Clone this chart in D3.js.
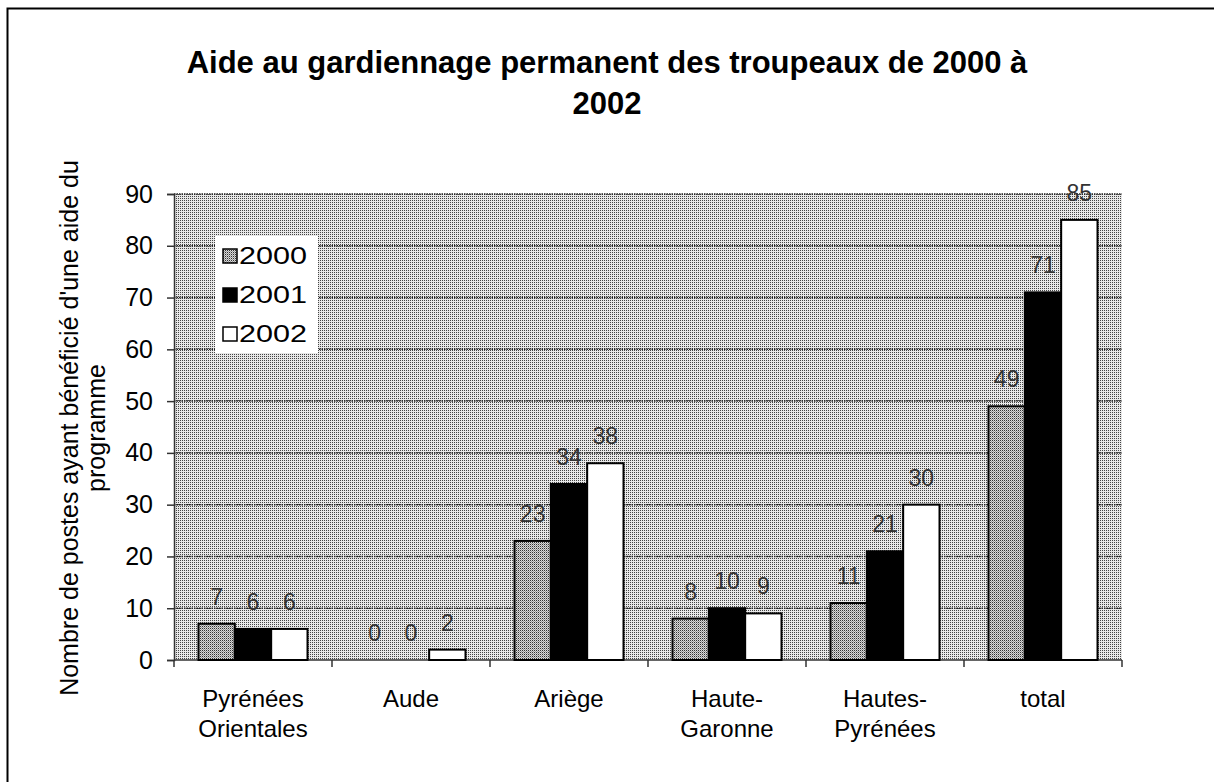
<!DOCTYPE html>
<html>
<head>
<meta charset="utf-8">
<script src="https://cdn.jsdelivr.net/npm/d3@7"></script>
<style>
  body { margin: 0; background: #fff; }
  svg { display: block; font-family: "Liberation Sans", Arial, sans-serif; }
</style>
</head>
<body>
<div id="chart"></div>
<script>
// data
var regions = ["Pyrénées Orientales", "Aude", "Ariège", "Haute-Garonne", "Hautes-Pyrénées", "total"];
var years = ["2000", "2001", "2002"];
var v2000 = [7, 0, 23, 8, 11, 49];
var v2001 = [6, 0, 34, 10, 21, 71];
var v2002 = [6, 2, 38, 9, 30, 85];
var yTicks = [0, 10, 20, 30, 40, 50, 60, 70, 80, 90];
var labelLines = [["Pyrénées", "Orientales"], ["Aude"], ["Ariège"], ["Haute-", "Garonne"], ["Hautes-", "Pyrénées"], ["total"]];

var W = 1214, H = 782;
var plot = {left: 174, right: 1122, top: 194, bottom: 660};

var svg = d3.select("#chart").append("svg")
  .attr("width", W).attr("height", H);

// halftone-ish fills
var defs = svg.append("defs");
var bgPat = defs.append("pattern").attr("id", "bgdots")
  .attr("width", 2).attr("height", 2).attr("patternUnits", "userSpaceOnUse");
bgPat.append("rect").attr("width", 2).attr("height", 2).attr("fill", "#e8e8e8");
bgPat.append("rect").attr("width", 1).attr("height", 1).attr("fill", "#444");

var barPat = defs.append("pattern").attr("id", "bardots")
  .attr("width", 2).attr("height", 2).attr("patternUnits", "userSpaceOnUse");
barPat.append("rect").attr("width", 2).attr("height", 2).attr("fill", "#d8d8d8");
barPat.append("rect").attr("width", 1).attr("height", 1).attr("fill", "#333");
barPat.append("rect").attr("x", 1).attr("y", 1).attr("width", 1).attr("height", 1).attr("fill", "#999");

var fills = {"2000": "url(#bardots)", "2001": "#000", "2002": "#fff"};

// outer frame (only top/left visible in the crop)
svg.append("rect")
  .attr("x", 7.5).attr("y", 8.5).attr("width", W + 20).attr("height", H + 20)
  .attr("fill", "none").attr("stroke", "#000").attr("stroke-width", 2);

// title
svg.append("text").attr("x", 607).attr("y", 73).attr("text-anchor", "middle")
  .attr("font-size", 31).attr("font-weight", "bold")
  .text("Aide au gardiennage permanent des troupeaux de 2000 à");
svg.append("text").attr("x", 607).attr("y", 114).attr("text-anchor", "middle")
  .attr("font-size", 31).attr("font-weight", "bold")
  .text("2002");

var x = d3.scaleBand().domain(regions).range([plot.left, plot.right]).paddingInner(0).paddingOuter(0);
var xs = d3.scaleBand().domain(years).range([0, 109]);
var y = d3.scaleLinear().domain([0, 90]).range([plot.bottom, plot.top]);

// plot area
svg.append("rect")
  .attr("x", plot.left).attr("y", plot.top)
  .attr("width", plot.right - plot.left).attr("height", plot.bottom - plot.top)
  .attr("fill", "url(#bgdots)");

// gridlines
svg.append("g").selectAll("line").data(yTicks.filter(function(d) { return d > 0; }))
  .enter().append("line")
  .attr("x1", plot.left).attr("x2", plot.right)
  .attr("y1", function(d) { return y(d); }).attr("y2", function(d) { return y(d); })
  .attr("stroke", "#222").attr("stroke-width", 1.5).attr("stroke-dasharray", "1.5,1");

// y axis
var yAxis = svg.append("g")
  .attr("transform", "translate(" + plot.left + ",0)")
  .call(d3.axisLeft(y).tickValues(yTicks).tickSize(7).tickPadding(14));
yAxis.select(".domain").attr("stroke", "#333").attr("stroke-width", 1.5);
yAxis.selectAll(".tick line").attr("stroke", "#333").attr("stroke-width", 1.5);
yAxis.selectAll(".tick text").attr("font-size", 25).attr("fill", "#000")
  .attr("font-family", "Liberation Sans, Arial, sans-serif");

// x axis line and boundary ticks
svg.append("line")
  .attr("x1", plot.left).attr("x2", plot.right)
  .attr("y1", plot.bottom).attr("y2", plot.bottom)
  .attr("stroke", "#333").attr("stroke-width", 1.5);
svg.append("g").selectAll("line").data(regions.concat(["end"]))
  .enter().append("line")
  .attr("x1", function(d, i) { return plot.left + i * x.bandwidth(); })
  .attr("x2", function(d, i) { return plot.left + i * x.bandwidth(); })
  .attr("y1", plot.bottom).attr("y2", plot.bottom + 7)
  .attr("stroke", "#333").attr("stroke-width", 1.5);

// category labels
var xl = svg.append("g").selectAll("text").data(regions)
  .enter().append("text")
  .attr("x", function(d) { return x(d) + x.bandwidth() / 2; })
  .attr("y", 707)
  .attr("text-anchor", "middle")
  .attr("font-size", 24);
xl.each(function(d, i) {
  var t = d3.select(this);
  labelLines[i].forEach(function(line, k) {
    t.append("tspan").attr("x", x(d) + x.bandwidth() / 2).attr("dy", k === 0 ? 0 : 30).text(line);
  });
});

// bars
var series = [v2000, v2001, v2002];
var rows = [];
regions.forEach(function(r, i) {
  years.forEach(function(yr, j) {
    rows.push({region: r, year: yr, value: series[j][i]});
  });
});

var groups = svg.append("g");
groups.selectAll("rect").data(rows.filter(function(d) { return d.value > 0; }))
  .enter().append("rect")
  .attr("x", function(d) { return x(d.region) + (x.bandwidth() - 109) / 2 + xs(d.year); })
  .attr("y", function(d) { return y(d.value); })
  .attr("width", xs.bandwidth())
  .attr("height", function(d) { return plot.bottom - y(d.value); })
  .attr("fill", function(d) { return fills[d.year]; })
  .attr("stroke", "#000").attr("stroke-width", 2);

// value labels
groups.selectAll("text").data(rows)
  .enter().append("text")
  .attr("x", function(d) { return x(d.region) + (x.bandwidth() - 109) / 2 + xs(d.year) + xs.bandwidth() / 2; })
  .attr("y", function(d) { return y(d.value) - 19; })
  .attr("text-anchor", "middle")
  .attr("font-size", 23)
  .attr("fill", "#333")
  .text(function(d) { return d.value; });

// y axis title
var yt = svg.append("text")
  .attr("transform", "translate(78,428) rotate(-90)")
  .attr("text-anchor", "middle")
  .attr("font-size", 25);
yt.append("tspan").attr("x", 0).attr("dy", 0).text("Nombre de postes ayant bénéficié d'une aide du");
yt.append("tspan").attr("x", 0).attr("dy", 27).text("programme");

// legend
var lg = svg.append("g").attr("transform", "translate(215,236)");
lg.append("rect").attr("width", 103).attr("height", 117).attr("fill", "#fff");
var items = lg.selectAll("g").data(years).enter().append("g")
  .attr("transform", function(d, i) { return "translate(8," + (20 + i * 39) + ")"; });
items.append("rect")
  .attr("x", 0).attr("y", -7).attr("width", 14).attr("height", 14)
  .attr("fill", function(d) { return fills[d]; })
  .attr("stroke", "#000").attr("stroke-width", 1.5);
items.append("text")
  .attr("x", 16).attr("y", 8).attr("font-size", 23)
  .attr("textLength", 68).attr("lengthAdjust", "spacingAndGlyphs")
  .text(function(d) { return d; });
</script>
</body>
</html>
